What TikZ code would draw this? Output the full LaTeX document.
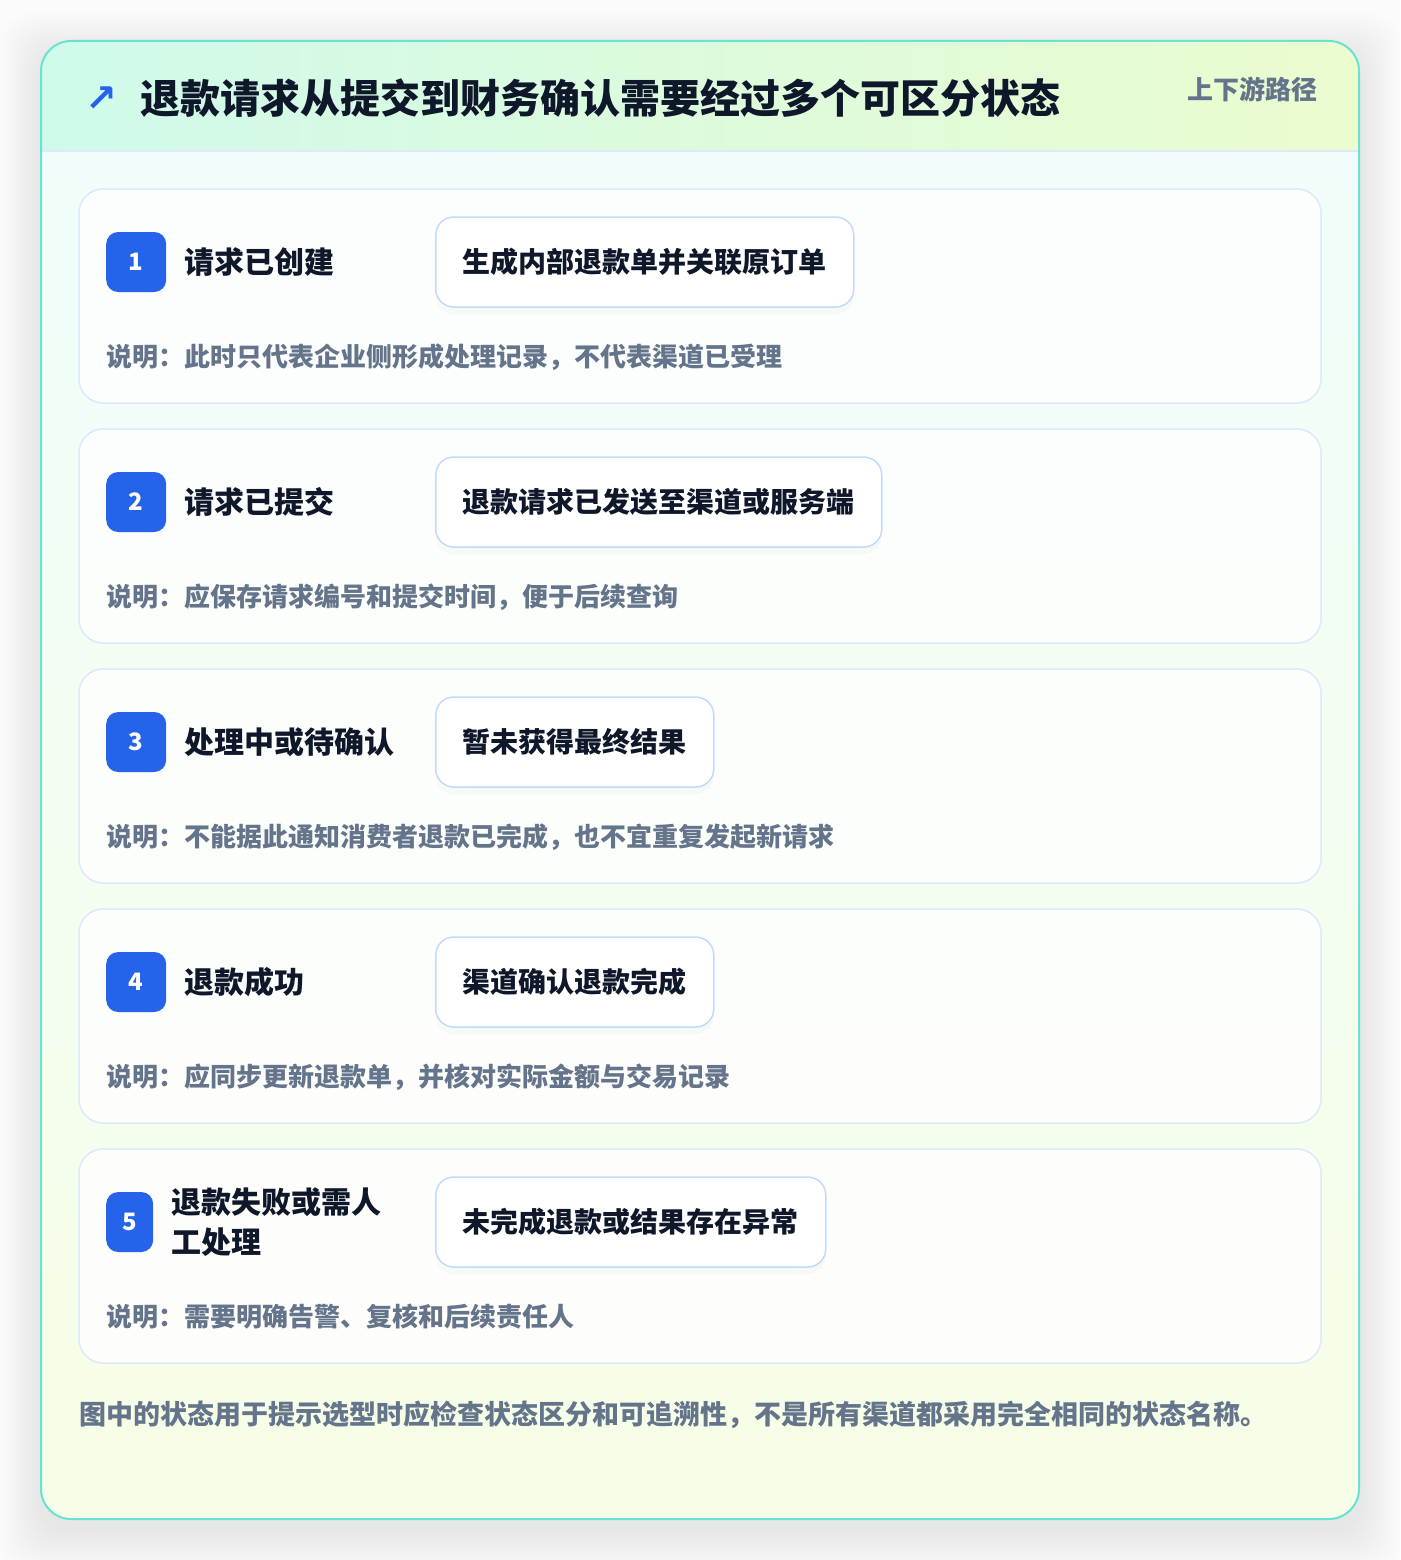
\documentclass[tikz,border=0pt]{standalone}
\usepackage{fontspec}
\setmainfont{Noto Sans CJK SC}
\newfontfamily\symfont{DejaVu Sans}
\usetikzlibrary{positioning,shadows}
\definecolor{ink}{HTML}{0F172A}
\definecolor{muted}{HTML}{64748B}
\definecolor{brand}{HTML}{2563EB}
\definecolor{tealline}{HTML}{67E3D1}
\definecolor{cardline}{HTML}{DBEAFE}
\definecolor{pillline}{HTML}{BFDBFE}
\definecolor{mintA}{HTML}{CFFAEA}
\definecolor{limeA}{HTML}{EBFCCF}
\definecolor{mintB}{HTML}{F0FDFA}
\definecolor{limeB}{HTML}{F7FEE7}

\begin{document}
\begin{tikzpicture}[x=1pt,y=-1pt,
       card/.style={draw=cardline,line width=1.5pt,fill=white,fill opacity=0.8,rounded corners=24pt},
       badge/.style={anchor=west,fill=brand,text=white,rounded corners=12pt,inner sep=0pt,
         minimum height=60pt,font=\bfseries\fontsize{24}{28}\selectfont},
       state/.style={align=left,inner sep=0pt,text=ink,font=\bfseries\fontsize{30}{40}\selectfont},
       pill/.style={anchor=west,draw=pillline,line width=1.5pt,fill=white,rounded corners=18pt,
         minimum height=90pt,inner xsep=27pt,text=ink,font=\bfseries\fontsize{28}{34}\selectfont,
         drop shadow={opacity=0.04,shadow xshift=0pt,shadow yshift=-7pt}},
       note/.style={anchor=west,inner sep=0pt,text=muted,font=\bfseries\fontsize{26}{30}\selectfont}]
    \useasboundingbox[fill=white!97!gray] (0,0) rectangle (1400,1560);
    % soft shadow under the frame
    \foreach \s in {2,4,...,40}
      \fill[black,opacity=0.003,rounded corners=30pt] ({41-\s},{41-\s+12}) rectangle ({1359+\s},{1519+\s+12});
    \begin{scope}
      \clip[rounded corners=30pt] (41,41) rectangle (1359,1519);
      \shade[top color=mintB,bottom color=limeB] (41,151) rectangle (1359,1519);
      \shade[left color=mintA,right color=limeA] (41,41) rectangle (1359,151);
    \end{scope}
    \draw[cardline,line width=1.5pt] (41,151) -- (1359,151);
    \draw[tealline,line width=2pt,rounded corners=30pt] (41,41) rectangle (1359,1519);
    % header
    \node[text=brand,font=\symfont\bfseries\fontsize{38}{42}\selectfont] (icon) at (101,99) {↗};
    \node[anchor=west,inner sep=0pt,text=ink,font=\bfseries\fontsize{40}{48}\selectfont] (title) at (140,98)
      {退款请求从提交到财务确认需要经过多个可区分状态};
    \node[anchor=east,inner sep=0pt,text=muted,font=\bfseries\fontsize{26}{30}\selectfont] (tag) at (1318,89)
      {上下游路径};
    % states
    \foreach \i/\bw/\state/\pill/\note in {
      1/60pt/{请求已创建}/{生成内部退款单并关联原订单}/{此时只代表企业侧形成处理记录，不代表渠道已受理},
      2/60pt/{请求已提交}/{退款请求已发送至渠道或服务端}/{应保存请求编号和提交时间，便于后续查询},
      3/60pt/{处理中或待确认}/{暂未获得最终结果}/{不能据此通知消费者退款已完成，也不宜重复发起新请求},
      4/60pt/{退款成功}/{渠道确认退款完成}/{应同步更新退款单，并核对实际金额与交易记录},
      5/47pt/{退款失败或需人\\工处理}/{未完成退款或结果存在异常}/{需要明确告警、复核和后续责任人}}
    {
      \pgfmathsetmacro\ytop{189+240*(\i-1)}
      \draw[card] (79,\ytop) rectangle (1321,\ytop+214);
      \node[badge,minimum width=\bw] (badge\i) at (106,\ytop+73) {\i};
      \node[state,right=18pt of badge\i] (state\i) {\state};
      \node[pill] (pill\i) at (435,\ytop+73) {\pill};
      \node[note] (note\i) at (106,\ytop+168) {说明：\note};
    }
    \node[note,font=\bfseries\fontsize{27}{31}\selectfont] (footer) at (79,1415)
      {图中的状态用于提示选型时应检查状态区分和可追溯性，不是所有渠道都采用完全相同的状态名称。};
\end{tikzpicture}
\end{document}
